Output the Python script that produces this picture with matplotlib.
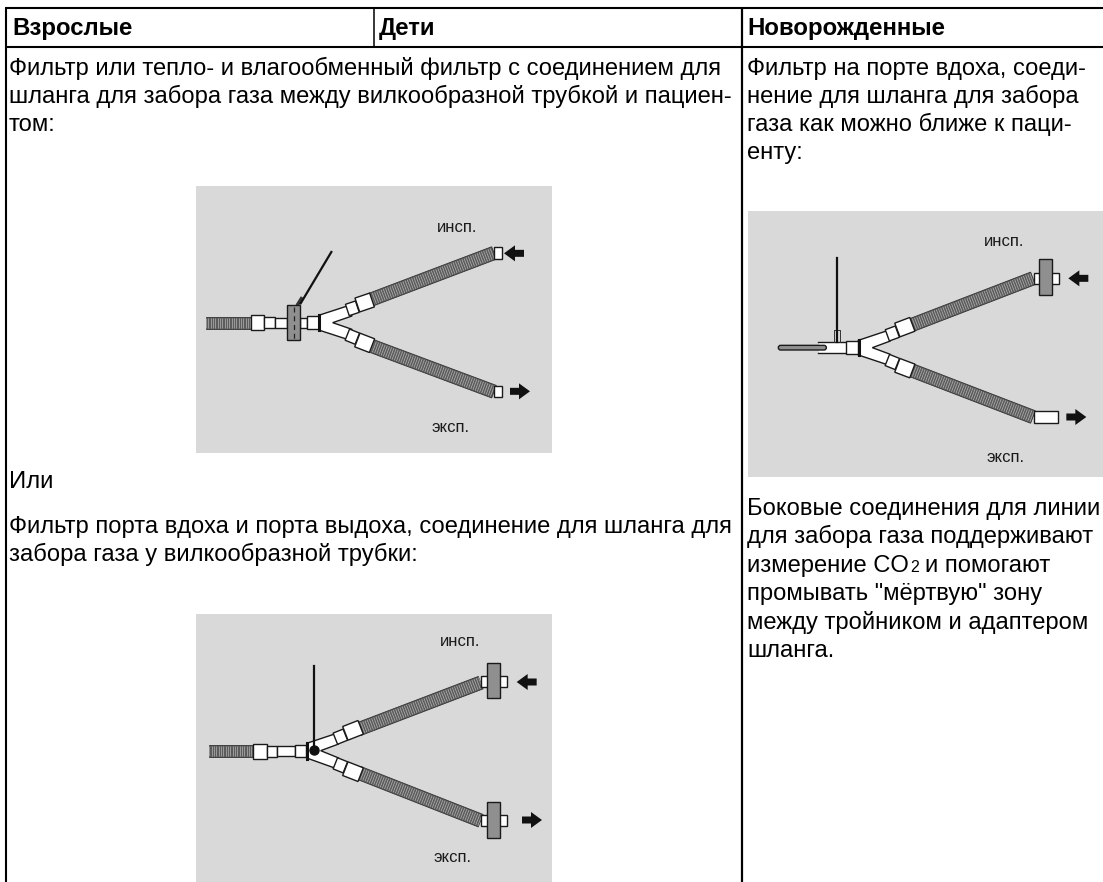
import matplotlib
matplotlib.use("Agg")
import matplotlib.pyplot as plt
import numpy as np
from matplotlib.patches import Rectangle, Polygon, FancyBboxPatch

plt.rcParams['font.family'] = ['Liberation Sans', 'DejaVu Sans']

headers = ["Взрослые", "Дети", "Новорожденные"]
header_x = [12, 379, 747]

adult_lines = [
    (9, 75, "Фильтр или тепло- и влагообменный фильтр с соединением для"),
    (9, 103, "шланга для забора газа между вилкообразной трубкой и пациен-"),
    (9, 131, "том:"),
    (9, 488, "Или"),
    (9, 533, "Фильтр порта вдоха и порта выдоха, соединение для шланга для"),
    (9, 561, "забора газа у вилкообразной трубки:"),
]
neo_lines = [
    (747, 75, "Фильтр на порте вдоха, соеди-"),
    (747, 103, "нение для шланга для забора"),
    (747, 131, "газа как можно ближе к паци-"),
    (747, 159, "енту:"),
    (747, 515, "Боковые соединения для линии"),
    (747, 543.5, "для забора газа поддерживают"),
    (747, 600, "промывать \"мёртвую\" зону"),
    (747, 628.5, "между тройником и адаптером"),
    (747, 657, "шланга."),
]
co2_parts = ["измерение CO", "2", "и помогают"]

# panel boxes: left, top, right, bottom
panel_boxes = [(196, 186, 552, 453), (196, 614, 552, 882), (748, 211, 1103, 477)]
# origin of each panel's zoomed sketch coords (sketch px / 3 + origin)
panel_origins = [(190, 180), (190, 610), (745, 205)]

fig = plt.figure(figsize=(11.03, 8.82), dpi=100)
ax = fig.add_axes([0, 0, 1, 1])
ax.set_xlim(0, 1103)
ax.set_ylim(882, 0)
ax.axis('off')

GRID = '#000000'
PANEL = '#d9d9d9'
HOSE = '#5c5c5c'
FILT = '#8f8f8f'
BODY_SIZE = 17.1


def hose(o, p0, p1, w, pitch=7):
    x0, y0 = o[0] + p0[0] / 3, o[1] + p0[1] / 3
    x1, y1 = o[0] + p1[0] / 3, o[1] + p1[1] / 3
    d = np.array([x1 - x0, y1 - y0])
    L = np.hypot(*d)
    d = d / L
    n = np.array([-d[1], d[0]]) * w / 6
    pts = [(x0 + n[0], y0 + n[1]), (x1 + n[0], y1 + n[1]), (x1 - n[0], y1 - n[1]), (x0 - n[0], y0 - n[1])]
    ax.add_patch(Polygon(pts, closed=True, fc=HOSE, ec='#333333', lw=0.6, zorder=3))
    for s in np.arange(0, L, pitch / 3):
        c = np.array([x0, y0]) + d * s
        ax.plot([c[0] + n[0] * 0.85, c[0] - n[0] * 0.85], [c[1] + n[1] * 0.85, c[1] - n[1] * 0.85],
                color='#b5b5b5', lw=0.5, zorder=4, solid_capstyle='butt')


def block(o, p0, p1, w, fc='white', lw=1.0):
    x0, y0 = o[0] + p0[0] / 3, o[1] + p0[1] / 3
    x1, y1 = o[0] + p1[0] / 3, o[1] + p1[1] / 3
    d = np.array([x1 - x0, y1 - y0])
    d = d / np.hypot(*d)
    n = np.array([-d[1], d[0]]) * w / 6
    pts = [(x0 + n[0], y0 + n[1]), (x1 + n[0], y1 + n[1]), (x1 - n[0], y1 - n[1]), (x0 - n[0], y0 - n[1])]
    ax.add_patch(Polygon(pts, closed=True, fc=fc, ec='#1a1a1a', lw=lw, zorder=5))


def filt(o, cx, cy, w, h):
    ax.add_patch(Rectangle((o[0] + (cx - w / 2) / 3, o[1] + (cy - h / 2) / 3), w / 3, h / 3,
                           fc=FILT, ec='#1a1a1a', lw=1.0, zorder=7))


def arrow(o, tip, tail):
    x0, y0 = o[0] + tip[0] / 3, o[1] + tip[1] / 3
    sgn = 1 if tail[0] > tip[0] else -1
    hl = 11
    xs = [x0, x0 + sgn * hl, x0 + sgn * hl, x0 + sgn * 20, x0 + sgn * 20, x0 + sgn * hl, x0 + sgn * hl]
    ys = [y0, y0 - 8, y0 - 3.5, y0 - 3.5, y0 + 3.5, y0 + 3.5, y0 + 8]
    ax.add_patch(Polygon(list(zip(xs, ys)), closed=True, fc='#111111', ec='none', zorder=6))


def wye(o, cx, cy, up_end, down_end):
    # white Y junction
    inner = (cx + 42, cy)
    pts = [(cx, cy - 22), up_end[0], up_end[1], inner, down_end[0], down_end[1], (cx, cy + 22)]
    pts = [(o[0] + p[0] / 3, o[1] + p[1] / 3) for p in pts]
    ax.add_patch(Polygon(pts, closed=True, fc='white', ec='#1a1a1a', lw=1.0, zorder=4))


def labels(o, ins, exp):
    ax.text(o[0] + ins[0] / 3, o[1] + ins[1] / 3, "инсп.", fontsize=12, color='#1a1a1a', va='center', zorder=8)
    ax.text(o[0] + exp[0] / 3, o[1] + exp[1] / 3, "эксп.", fontsize=12, color='#1a1a1a', va='center', zorder=8)


# grid lines
ax.plot([5, 1103], [8, 8], color=GRID, lw=1.5, solid_capstyle='butt')
ax.plot([5, 1103], [47, 47], color=GRID, lw=1.5, solid_capstyle='butt')
ax.plot([6, 6], [8, 882], color=GRID, lw=1.5, solid_capstyle='butt')
ax.plot([374, 374], [8, 47], color=GRID, lw=1.1, solid_capstyle='butt')
ax.plot([741.5, 741.5], [8, 882], color=GRID, lw=1.6, solid_capstyle='butt')

for h, x in zip(headers, header_x):
    ax.text(x, 35, h, fontsize=17.3, fontweight='bold', va='baseline', color='black')
for x, y, t in adult_lines + neo_lines:
    ax.text(x, y, t, fontsize=BODY_SIZE, va='baseline', color='black')

# CO2 line: the small 2 sits right after CO, axes units are pixels here
renderer = fig.canvas.get_renderer()
t1 = ax.text(747, 572, co2_parts[0], fontsize=BODY_SIZE, va='baseline', color='black')
x2 = t1.get_window_extent(renderer).x1 + 1
t2 = ax.text(x2, 572.5, co2_parts[1], fontsize=11.5, va='baseline', color='black')
x3 = t2.get_window_extent(renderer).x1 + 6
ax.text(x3, 572, co2_parts[2], fontsize=BODY_SIZE, va='baseline', color='black')

for (l, t, r, b) in panel_boxes:
    ax.add_patch(Rectangle((l, t), r - l, b - t, fc=PANEL, ec='none', zorder=1))

# panel 1: filter in the patient line
o = panel_origins[0]
hose(o, (48, 428), (182, 428), 36)
block(o, (182, 428), (222, 428), 44)
block(o, (222, 428), (254, 428), 34)
block(o, (254, 428), (292, 428), 30)
block(o, (330, 428), (352, 428), 30)
block(o, (352, 428), (386, 428), 38)
ax.plot([o[0] + 387 / 3] * 2, [o[1] + 405 / 3, o[1] + 451 / 3], color='#111111', lw=2.2, zorder=7)
wye(o, 386, 428, [(472, 378), (486, 408)], [(486, 448), (472, 478)])
hose(o, (540, 360), (912, 219), 40)
hose(o, (540, 496), (912, 635), 40)
block(o, (472, 390), (502, 380), 36)
block(o, (502, 375), (546, 360), 44)
block(o, (472, 464), (502, 476), 36)
block(o, (502, 480), (546, 497), 44)
block(o, (912, 219), (936, 219), 34)
block(o, (912, 635), (936, 635), 34)
filt(o, 311, 428, 40, 106)
ax.plot([o[0] + 311 / 3] * 2, [o[1] + 380 / 3, o[1] + 478 / 3], color='#222222', lw=0.9, ls=(0, (4, 3)), zorder=8)
ax.plot([o[0] + 424 / 3, o[0] + 332 / 3], [o[1] + 216 / 3, o[1] + 370 / 3], color='#111111', lw=1.6, zorder=8)
ax.plot([o[0] + 324 / 3, o[0] + 334 / 3], [o[1] + 372 / 3, o[1] + 356 / 3], color='#333333', lw=2.5, zorder=6)
arrow(o, (942, 220), (1004, 220))
arrow(o, (1020, 634), (958, 634))
labels(o, (740, 142), (724, 742))

# panel 2: filters on the inspiratory and expiratory ports
o = panel_origins[1]
hose(o, (58, 424), (188, 424), 36)
block(o, (188, 424), (230, 424), 44)
block(o, (230, 424), (260, 424), 34)
block(o, (260, 424), (314, 424), 30)
block(o, (314, 424), (348, 424), 36)
ax.plot([o[0] + 351 / 3] * 2, [o[1] + 400 / 3, o[1] + 446 / 3], color='#111111', lw=2.2, zorder=7)
wye(o, 350, 422, [(434, 372), (446, 402)], [(446, 444), (434, 474)])
hose(o, (505, 358), (872, 218), 40)
hose(o, (505, 488), (872, 632), 40)
block(o, (436, 386), (466, 374), 36)
block(o, (466, 370), (512, 352), 44)
block(o, (436, 460), (466, 472), 36)
block(o, (466, 476), (512, 494), 44)
block(o, (874, 215), (950, 215), 34)
block(o, (874, 632), (950, 632), 34)
filt(o, 911, 211, 40, 106)
filt(o, 911, 630, 40, 106)
ax.plot([o[0] + 371 / 3] * 2, [o[1] + 168 / 3, o[1] + 420 / 3], color='#111111', lw=1.6, zorder=8)
ax.plot([o[0] + 371 / 3], [o[1] + 421 / 3], 'o', color='#111111', ms=6.5, zorder=8)
arrow(o, (980, 216), (1040, 216))
arrow(o, (1056, 630), (995, 630))
labels(o, (750, 94), (732, 742))

# panel 3: neonatal circuit
o = panel_origins[2]
ax.add_patch(Rectangle((o[0] + 222 / 3, o[1] + 411 / 3), 82 / 3, 34 / 3, fc='white', ec='none', zorder=4))
ax.add_patch(FancyBboxPatch((o[0] + 100 / 3, o[1] + 421 / 3), 144 / 3, 14 / 3,
                            boxstyle='round,pad=0,rounding_size=2.3', fc=FILT, ec='#1a1a1a', lw=1.0, zorder=6))
ax.plot([o[0] + 220 / 3, o[0] + 304 / 3], [o[1] + 411 / 3] * 2, color='#1a1a1a', lw=1.0, zorder=5)
ax.plot([o[0] + 220 / 3, o[0] + 304 / 3], [o[1] + 445 / 3] * 2, color='#1a1a1a', lw=1.0, zorder=5)
block(o, (304, 428), (340, 428), 38)
ax.plot([o[0] + 341 / 3] * 2, [o[1] + 405 / 3, o[1] + 451 / 3], color='#111111', lw=2.2, zorder=7)
wye(o, 340, 428, [(424, 378), (436, 408)], [(436, 448), (424, 478)])
hose(o, (495, 362), (864, 220), 40)
hose(o, (495, 494), (864, 636), 40)
block(o, (427, 391), (457, 380), 36)
block(o, (457, 375), (502, 358), 44)
block(o, (427, 465), (457, 477), 36)
block(o, (457, 481), (502, 498), 44)
block(o, (866, 220), (942, 220), 32)
block(o, (866, 636), (938, 636), 34)
filt(o, 901, 216, 40, 106)
ax.plot([o[0] + 275 / 3] * 2, [o[1] + 160 / 3, o[1] + 410 / 3], color='#111111', lw=1.6, zorder=8)
ax.plot([o[0] + 268 / 3, o[0] + 268 / 3, o[0] + 284 / 3, o[0] + 284 / 3],
        [o[1] + 411 / 3, o[1] + 376 / 3, o[1] + 376 / 3, o[1] + 411 / 3], color='#333333', lw=0.7, zorder=7)
arrow(o, (970, 220), (1030, 220))
arrow(o, (1024, 636), (962, 636))
labels(o, (716, 110), (724, 756))

fig.savefig('out.png', dpi=100)
